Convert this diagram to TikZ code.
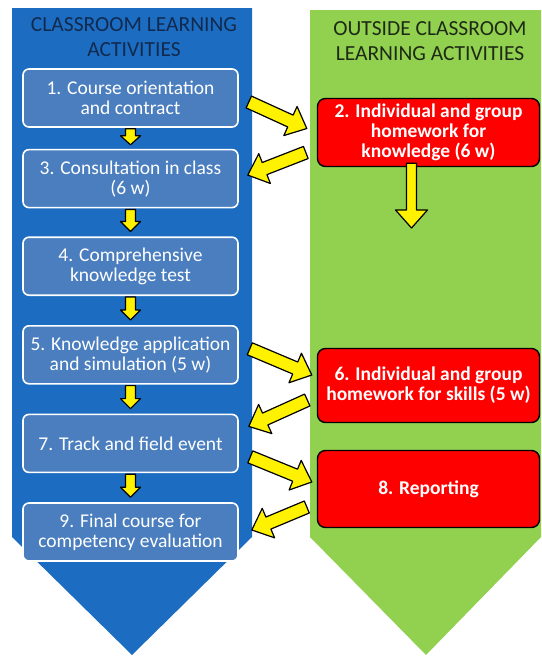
\documentclass[tikz,border=0pt]{standalone}
\usepackage{fontspec}
\setmainfont{Carlito}
\usetikzlibrary{positioning,calc}

\definecolor{chevblue}{HTML}{1C6DC1}
\definecolor{boxblue}{HTML}{4A7EBF}
\definecolor{titleblue}{HTML}{112A4F}
\definecolor{chevgreen}{HTML}{92D050}
\definecolor{titlegreen}{HTML}{1E2B14}
\definecolor{redfill}{HTML}{FF0000}

\tikzset{
	bluebox/.style={draw=white,line width=1.6pt,fill=boxblue,rounded corners=6pt,text=white,align=center,
		minimum width=215pt,minimum height=58pt,font=\fontsize{19.5}{20}\selectfont},
	redbox/.style={draw=black,line width=1.4pt,fill=redfill,rounded corners=8pt,text=white,align=center,
		minimum width=222pt,font=\bfseries\fontsize{19.5}{20}\selectfont},
	headtext/.style={align=center,font=\fontsize{21.5}{24.5}\selectfont},
	yellowarrow/.style={draw=black,line width=1.2pt,fill=yellow,line join=round},
}

% from, to, half shaft, half head, head length
\newcommand{\blockarrow}[5]{%
	\coordinate (ba) at ($(#2)!#5!(#1)$);
	\draw[yellowarrow] ($(#1)!#3!90:(#2)$) -- ($(ba)!#3!90:(#2)$) -- ($(ba)!#4!90:(#2)$) -- (#2)
		-- ($(ba)!#4!-90:(#2)$) -- ($(ba)!#3!-90:(#2)$) -- ($(#1)!#3!-90:(#2)$) -- cycle;}

\begin{document}
\begin{tikzpicture}[x=1pt,y=1pt]
		\useasboundingbox (0,0) rectangle (541,-656);
		\fill[chevblue]		(12,-8) -- (252,-8) -- (252,-537) -- (132,-655) -- (12,-537) -- cycle;
		\fill[chevgreen]	(310,-10) -- (541,-10) -- (541,-537) -- (426,-655) -- (310,-537) -- cycle;

		\node[headtext,text=titleblue]	(t1)	at (134,-37)	{CLASSROOM LEARNING\\ACTIVITIES};
		\node[headtext,text=titlegreen]	(t2)	at (430,-41)	{OUTSIDE CLASSROOM\\LEARNING ACTIVITIES};

		\node[bluebox]						(b1)	at (130.5,-98)	{1. Course orientation\\and contract};
		\node[bluebox,below=21pt of b1]		(b3)	{3. Consultation in class\\(6 w)};
		\node[bluebox,below=28pt of b3]		(b4)	{4. Comprehensive\\knowledge test};
		\node[bluebox,below=29pt of b4]		(b5)	{5. Knowledge application\\and simulation (5 w)};
		\node[bluebox,below=29pt of b5]		(b7)	{7. Track and field event};
		\node[bluebox,below=29pt of b7]		(b9)	{9. Final course for\\competency evaluation};

		\node[redbox,minimum height=68pt]	(r2)	at (428.5,-132.5)	{2. Individual and group\\homework for\\knowledge (6 w)};
		\node[redbox,minimum height=74pt]	(r6)	at (428.5,-385.5)	{6. Individual and group\\homework for skills (5 w)};
		\node[redbox,minimum height=77pt]	(r8)	at (428.5,-489)		{8. Reporting};
		\coordinate							(r2end)	at (411.5,-228);

		\blockarrow{[yshift=-1pt]b1.south}{[yshift=4pt]b3.north}{5pt}{10pt}{9pt}
		\blockarrow{[yshift=-1pt]b3.south}{[yshift=5pt]b4.north}{5pt}{10pt}{10pt}
		\blockarrow{[yshift=-1pt]b4.south}{[yshift=5pt]b5.north}{5pt}{10pt}{10pt}
		\blockarrow{[yshift=-1pt]b5.south}{[yshift=5pt]b7.north}{5pt}{10pt}{10pt}
		\blockarrow{[yshift=-1pt]b7.south}{[yshift=5pt]b9.north}{5pt}{10pt}{10pt}

		\blockarrow{[xshift=10pt,yshift=-4pt]b1.east}{[xshift=-10pt,yshift=4pt]r2.west}{6.5pt}{16pt}{18pt}
		\blockarrow{[xshift=-11pt,yshift=-20pt]r2.west}{[xshift=9pt,yshift=3.5pt]b3.east}{6.5pt}{16pt}{18pt}
		\blockarrow{[xshift=-17pt,yshift=4pt]r2.south}{r2end}{5pt}{16pt}{18pt}
		\blockarrow{[xshift=11pt,yshift=6pt]b5.east}{[xshift=-5pt,yshift=10.5pt]r6.west}{6.5pt}{16pt}{18pt}
		\blockarrow{[xshift=-9.5pt,yshift=-14.5pt]r6.west}{[xshift=10pt,yshift=17pt]b7.east}{6.5pt}{16pt}{18pt}
		\blockarrow{[xshift=11.5pt,yshift=-13.5pt]b7.east}{[xshift=-5pt,yshift=7pt]r8.west}{6.5pt}{16pt}{18pt}
		\blockarrow{[xshift=-10pt,yshift=-18pt]r8.west}{[xshift=13pt,yshift=2pt]b9.east}{6.5pt}{16pt}{18pt}
	\end{tikzpicture}
\end{document}
